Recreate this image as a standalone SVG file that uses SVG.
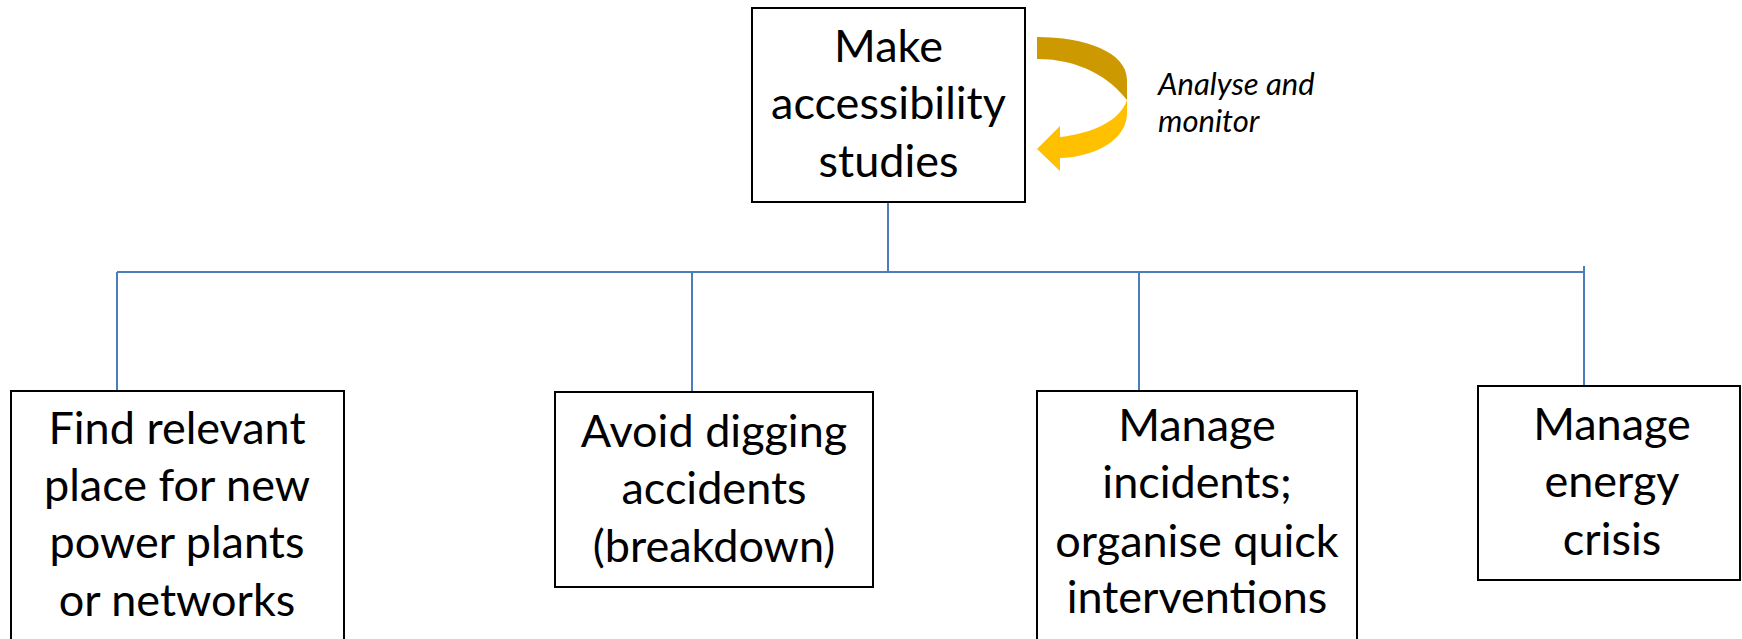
<svg xmlns="http://www.w3.org/2000/svg" width="1742" height="639" viewBox="0 0 1742 639">
<style>
.box{fill:#fff;stroke:#000;stroke-width:2}
.lbl{font-family:Lato,"Open Sans","Liberation Sans",sans-serif;font-size:45px;fill:#000;text-anchor:middle}
.note{font-family:Lato,"Open Sans","Liberation Sans",sans-serif;font-size:31px;font-style:italic;fill:#000}
.conn{stroke:#4A7EBB;stroke-width:2;fill:none}
</style>
<rect width="1742" height="639" fill="#fff"/>
<g id="connectors">
<line class="conn" x1="888" y1="202" x2="888" y2="272"/>
<line class="conn" x1="117" y1="272" x2="1584" y2="272"/>
<line class="conn" x1="117" y1="272" x2="117" y2="391"/>
<line class="conn" x1="692" y1="272" x2="692" y2="392"/>
<line class="conn" x1="1139" y1="272" x2="1139" y2="391"/>
<line class="conn" x1="1584" y1="266" x2="1584" y2="386"/>
</g>
<g id="node-top">
<rect class="box" x="752" y="8" width="273" height="194"/>
<text class="lbl" x="888.5" y="62">Make</text>
<text class="lbl" x="888.5" y="119">accessibility</text>
<text class="lbl" x="888.5" y="177">studies</text>
</g>
<g id="loop-arrow">
<path d="M1037,37 C1085,37 1127,52 1127,80 L1127,100 C1110,78 1080,59 1037,59 Z" fill="#CC9A00"/>
<path d="M1127,100 L1127,113 C1127,140 1095,157 1060,158 L1060,171 L1037,149 L1060,126 L1060,137 C1095,133 1120,120 1127,100 Z" fill="#FFC000"/>
<text class="note" x="1158" y="95">Analyse and</text>
<text class="note" x="1158" y="132">monitor</text>
</g>
<g id="node-1">
<rect class="box" x="11" y="391" width="333" height="260"/>
<text class="lbl" x="177" y="444">Find relevant</text>
<text class="lbl" x="177" y="501">place for new</text>
<text class="lbl" x="177" y="558">power plants</text>
<text class="lbl" x="177" y="616">or networks</text>
</g>
<g id="node-2">
<rect class="box" x="555" y="392" width="318" height="195"/>
<text class="lbl" x="714" y="447">Avoid digging</text>
<text class="lbl" x="714" y="504">accidents</text>
<text class="lbl" x="714" y="562">(breakdown)</text>
</g>
<g id="node-3">
<rect class="box" x="1037" y="391" width="320" height="260"/>
<text class="lbl" x="1197" y="441">Manage</text>
<text class="lbl" x="1197" y="498">incidents;</text>
<text class="lbl" x="1197" y="557">organise quick</text>
<text class="lbl" x="1197" y="613">interventions</text>
</g>
<g id="node-4">
<rect class="box" x="1478" y="386" width="262" height="194"/>
<text class="lbl" x="1612" y="440">Manage</text>
<text class="lbl" x="1612" y="497">energy</text>
<text class="lbl" x="1612" y="555">crisis</text>
</g>
</svg>
